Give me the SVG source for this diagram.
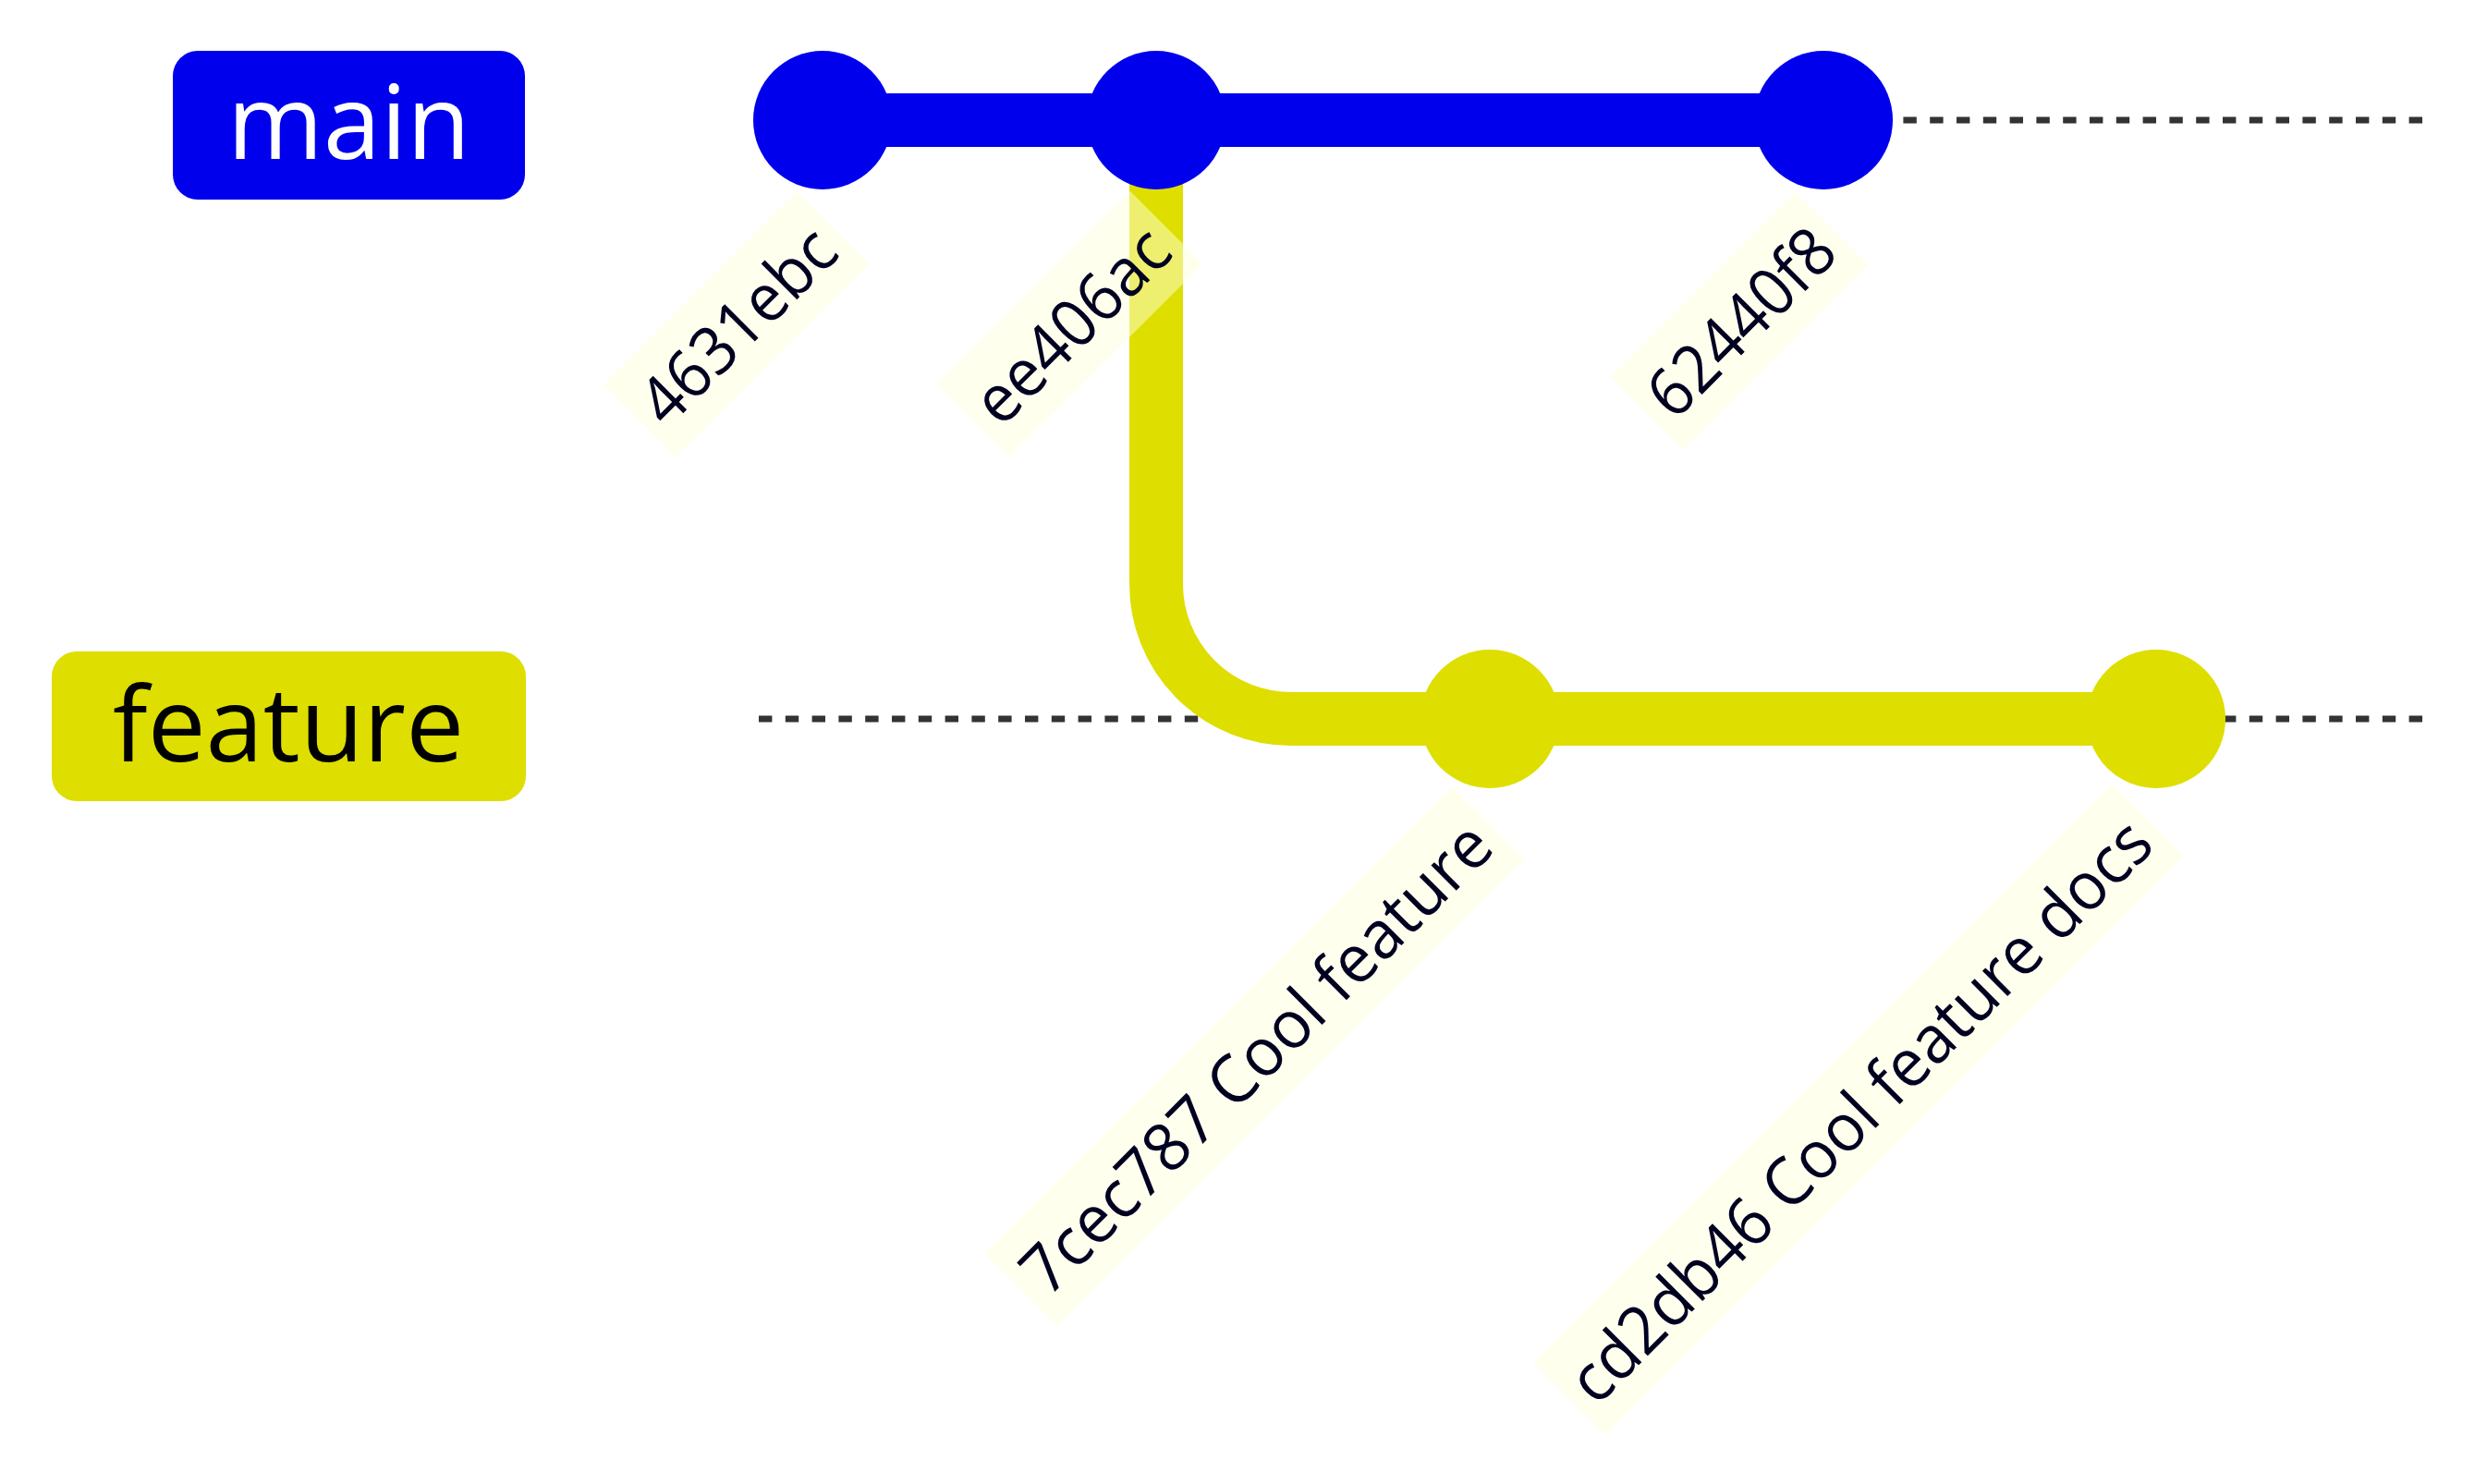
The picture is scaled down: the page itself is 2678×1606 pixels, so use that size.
<svg xmlns="http://www.w3.org/2000/svg" width="2678" height="1606" viewBox="0 0 2678 1606">
<style>
.branch{stroke:#333333;stroke-width:7;stroke-dasharray:14.4 14.4;fill:none}
.arrow{stroke-width:58;stroke-linecap:round;fill:none}
.c0{fill:#0000ec}
.c1{fill:#dede00}
.lbk{fill:#ffffde;opacity:0.5}
.lbl{font-family:"Open Sans","Noto Sans",sans-serif;font-size:72px;fill:#000021}
.blabel{font-family:"Open Sans","Noto Sans",sans-serif;font-size:112px;text-anchor:middle}
</style>
<rect width="2678" height="1606" fill="#ffffff"/>
<g id="branch-lines">
<line class="branch" x1="821" y1="130" x2="2621" y2="130"/>
<line class="branch" x1="821" y1="778" x2="2621" y2="778"/>
</g>
<g id="connectors">
<path class="arrow" stroke="#0000ec" d="M890 130 L1973 130"/>
<path class="arrow" stroke="#dede00" d="M1251 130 L1251 632 A146 146 0 0 0 1397 778 L2333 778"/>
</g>
<g id="commit-4631ebc"><circle class="c0" cx="890" cy="130" r="75"/></g>
<g id="commit-ee406ac"><circle class="c0" cx="1251" cy="130" r="75"/></g>
<g id="commit-62440f8"><circle class="c0" cx="1973" cy="130" r="75"/></g>
<g id="commit-7cec787"><circle class="c1" cx="1612" cy="778" r="75"/></g>
<g id="commit-cd2db46"><circle class="c1" cx="2333" cy="778" r="75"/></g>
<g id="label-4631ebc" transform="translate(652.7,416.3) rotate(-45)">
<rect class="lbk" x="0" y="0" width="296" height="111"/>
<text class="lbl" x="14.5" y="83" textLength="267" lengthAdjust="spacingAndGlyphs">4631ebc</text>
</g>
<g id="label-ee406ac" transform="translate(1014.4,415.6) rotate(-45)">
<rect class="lbk" x="0" y="0" width="295" height="111"/>
<text class="lbl" x="14.5" y="83" textLength="266" lengthAdjust="spacingAndGlyphs">ee406ac</text>
</g>
<g id="label-62440f8" transform="translate(1743,408) rotate(-45)">
<rect class="lbk" x="0" y="0" width="283" height="111"/>
<text class="lbl" x="14.5" y="83" textLength="254" lengthAdjust="spacingAndGlyphs">62440f8</text>
</g>
<g id="label-7cec787" transform="translate(1065.4,1356.6) rotate(-45)">
<rect class="lbk" x="0" y="0" width="715" height="111"/>
<text class="lbl" x="14.5" y="83" textLength="686" lengthAdjust="spacingAndGlyphs">7cec787 Cool feature</text>
</g>
<g id="label-cd2db46" transform="translate(1658.5,1474.5) rotate(-45)">
<rect class="lbk" x="0" y="0" width="886" height="111"/>
<text class="lbl" x="14.5" y="83" textLength="857" lengthAdjust="spacingAndGlyphs">cd2db46 Cool feature docs</text>
</g>
<g id="branch-main">
<rect x="187" y="55" width="381" height="161" rx="27" fill="#0000ec"/>
<text class="blabel" x="377.5" y="172" fill="#ffffff">main</text>
</g>
<g id="branch-feature">
<rect x="56" y="705" width="513" height="162" rx="27" fill="#dede00"/>
<text class="blabel" x="312" y="824" fill="#000000">feature</text>
</g>
</svg>
